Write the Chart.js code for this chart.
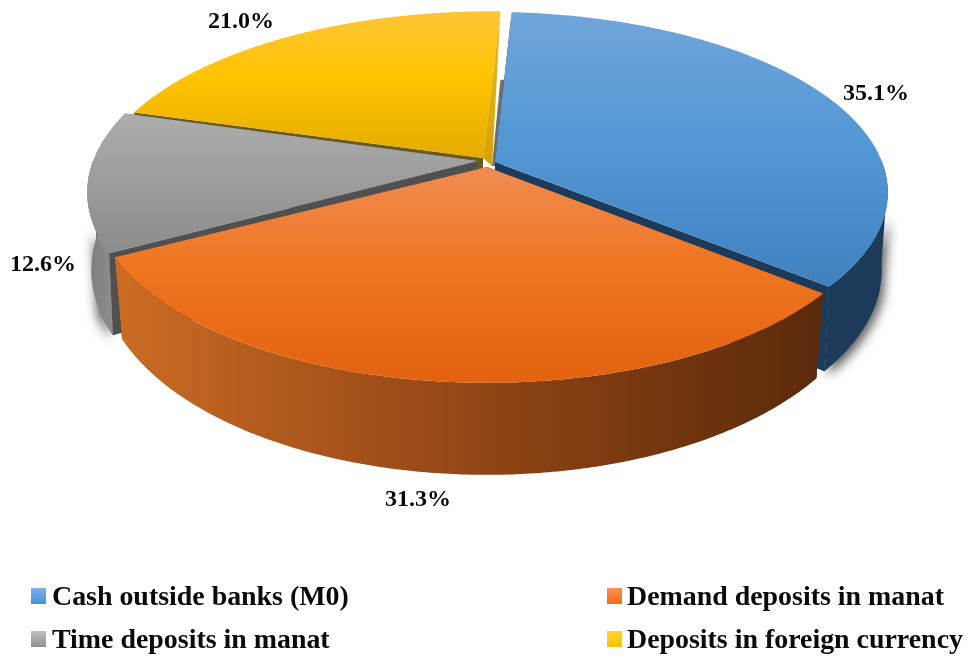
<!DOCTYPE html>
<html>
<head>
<meta charset="utf-8">
<style>
html,body{margin:0;padding:0;background:#fff;overflow:hidden}
#wrap{position:relative;width:971px;height:659px}
canvas{position:absolute;left:0;top:0}
.lg{position:absolute;font:bold 27.9px "Liberation Serif",serif;color:#0a0a0a;white-space:nowrap;line-height:30px}
.sw{position:absolute;width:15px;height:16px}
</style>
</head>
<body>
<div id="wrap"><canvas id="c" width="971" height="659"></canvas></div>
<script src="https://cdn.jsdelivr.net/npm/chart.js@4"></script>
<script>
const categories = ["Cash outside banks (M0)", "Demand deposits in manat", "Time deposits in manat", "Deposits in foreign currency"];
const shares = [35.1, 31.3, 12.6, 21.0];
const sliceColors = ["#5b9bd5", "#ed7d31", "#a5a5a5", "#ffc000"];
const swatchGradients = [["#7db2ea","#4a8fd6"],["#fb8f55","#ef6d16"],["#c0c0c0","#909090"],["#ffd829","#ffbe00"]];

// Drawing style for each slice (index order follows categories)
const K = 0.169, RX = 394, RY = 181;      // perspective of the top face
const SY = 1.08, DEPTH = 74.6;            // lower plane relative to the top one
const sliceStyle = [
  {cx:488,cy:162,r:1,ry:.97, sx:.985, inset:[.018,0], tip:[495,162], topG:[[0,"#70a5da"],[.45,"#5598d6"],[1,"#3f82be"]], wall:[[0,"#1c3a59"],[1,"#1c3a59"]], end:"#1c3a59", shadow:[1.85,4,4]},
  {cx:487,cy:165,r:.985,ry:1, sx:.98, inset:[0,0], tip:[487,167], topG:[[0,"#f08c52"],[.45,"#ef7622"],[1,"#e2620f"]], wall:[[0,"#cb6c24"],[.35,"#a3501a"],[.7,"#7c3a10"],[1,"#5a2a0a"]], end:"#5a2a0a"},
  {cx:487,cy:161,r:1,ry:1, sx:.99, inset:[0,.025], tip:[478,161], topG:[[0,"#adadad"],[1,"#8b8b8b"]], wall:[[0,"#7c7c7c"],[1,"#8e8e8e"]], end:"#505050", shadow:[4.34,3,-3]},
  {cx:492,cy:163,r:1,ry:.98, sx:.98, inset:[0,.027], tip:[483,158], topG:[[0,"#fdc536"],[.45,"#ffc400"],[1,"#e3ac00"]], wall:[[0,"#6b5a20"],[1,"#6b5a20"]], end:"#6b5a20", back:true}
];
const paintOrder = [3,2,0,1];
const labelStyle = {font:'bold 24px "Liberation Serif",serif', color:"#0a0a0a", pos:[[876,94],[418,500],[43,265],[241,22]]};
const legendPos = [[31,52,581],[607,627,581],[31,52,624],[607,627,624]];

function rimTop(s,t){
  const u=Math.sin(t), v=-Math.cos(t), w=1-K*v;
  return [s.cx+s.r*RX*u/w, s.cy+s.ry*RY*v/w];
}
function rimBottom(s,t){
  const u=Math.sin(t), v=-Math.cos(t), w=1-K*v;
  return [s.cx+s.sx*s.r*RX*u/w, s.cy+DEPTH+SY*s.ry*RY*v/w];
}
function tipBottom(s){ return [s.tip[0], s.tip[1]+DEPTH]; }
function gradV(ctx,stops,y0,y1){const g=ctx.createLinearGradient(0,y0,0,y1);stops.forEach(x=>g.addColorStop(x[0],x[1]));return g;}
function gradH(ctx,stops,x0,x1){const g=ctx.createLinearGradient(x0,0,x1,0);stops.forEach(x=>g.addColorStop(x[0],x[1]));return g;}
function poly(ctx,pts){ctx.beginPath();pts.forEach((p,i)=>i?ctx.lineTo(p[0],p[1]):ctx.moveTo(p[0],p[1]));ctx.closePath();}
function arcPts(fn,s,a,b){const n=Math.max(8,Math.ceil((b-a)/0.01)),o=[];for(let i=0;i<=n;i++)o.push(fn(s,a+(b-a)*i/n));return o;}

const pie3d = {
  id:"pie3d",
  beforeDatasetDraw(chart,args){
    const ctx=chart.ctx, arcs=chart.getDatasetMeta(args.index).data;
    ctx.save();
    paintOrder.forEach(i=>{
      const s=sliceStyle[i];
      const a=arcs[i].startAngle+Math.PI/2+s.inset[0], b=arcs[i].endAngle+Math.PI/2-s.inset[1];
      const A=rimTop(s,a), B=rimTop(s,b), A2=rimBottom(s,a), B2=rimBottom(s,b), T2=tipBottom(s);
      // outer-wall shadow goes first so nothing is painted over by it
      const lo=Math.max(a,Math.PI/2), hi=Math.min(b,Math.PI*1.5);
      if(hi>lo && s.shadow){
        const sl=i===0?s.shadow[0]:lo, sh=i===0?hi:s.shadow[0];
        const pts=arcPts(rimTop,s,sl,sh).concat(arcPts(rimBottom,s,sl,sh).reverse());
        ctx.save();
        ctx.shadowColor="rgba(0,0,0,.65)";ctx.shadowBlur=11;ctx.shadowOffsetX=s.shadow[2];ctx.shadowOffsetY=s.shadow[1];
        ctx.fillStyle=s.end;poly(ctx,pts);ctx.fill();
        ctx.restore();
      }
      // flat cut walls
      ctx.fillStyle=s.end;
      poly(ctx,[s.tip,A,A2,T2]);ctx.fill();
      if(s.back){
        // the face turned to the next slice, seen at a steep angle
        const t=[s.tip[0]+9,s.tip[1]+8];
        ctx.fillStyle="#6f6f6f";
        poly(ctx,[[B2[0],B2[1]+6],[B2[0]+9,B2[1]+6],[t[0]+9,t[1]],t]);ctx.fill();
        ctx.fillStyle=gradV(ctx,[[0,"#e9bb2e"],[1,"#d3a200"]],B[1],t[1]);
        poly(ctx,[B,s.tip,t]);ctx.fill();
      } else {
        poly(ctx,[s.tip,B,B2,T2]);ctx.fill();
      }
      // outer wall, only the part turned to the viewer
      if(hi>lo){
        const top=arcPts(rimTop,s,lo,hi), bot=arcPts(rimBottom,s,lo,hi).reverse();
        const xs=top.concat(bot).map(p=>p[0]);
        ctx.fillStyle=gradH(ctx,s.wall,Math.min(...xs),Math.max(...xs));
        poly(ctx,top.concat(bot));ctx.fill();
      }
      // top face
      const face=[s.tip].concat(arcPts(rimTop,s,a,b));
      const ys=face.map(p=>p[1]);
      ctx.fillStyle=gradV(ctx,s.topG,Math.min(...ys),Math.max(...ys));
      poly(ctx,face);ctx.fill();
    });
    ctx.restore();
    return false;
  },
  afterDatasetsDraw(chart){
    const ctx=chart.ctx;
    ctx.save();
    ctx.font=labelStyle.font;ctx.fillStyle=labelStyle.color;ctx.textAlign="center";ctx.textBaseline="middle";
    shares.forEach((v,i)=>ctx.fillText(v.toFixed(1)+"%",labelStyle.pos[i][0],labelStyle.pos[i][1]));
    ctx.restore();
  }
};

new Chart(document.getElementById("c"),{
  type:"pie",
  data:{labels:categories,datasets:[{data:shares,backgroundColor:sliceColors,borderWidth:0}]},
  options:{
    responsive:false,animation:false,rotation:3,
    events:[],
    plugins:{legend:{display:false},tooltip:{enabled:false}}
  },
  plugins:[pie3d]
});

const wrap=document.getElementById("wrap");
categories.forEach((name,i)=>{
  const [sx,tx,y]=legendPos[i];
  const sw=document.createElement("div");sw.className="sw";
  sw.style.left=sx+"px";sw.style.top=(y+7)+"px";
  sw.style.background="linear-gradient("+swatchGradients[i][0]+","+swatchGradients[i][1]+")";
  wrap.appendChild(sw);
  const t=document.createElement("div");t.className="lg";t.textContent=name;
  t.style.left=tx+"px";t.style.top=y+"px";
  wrap.appendChild(t);
});
</script>
</body>
</html>
